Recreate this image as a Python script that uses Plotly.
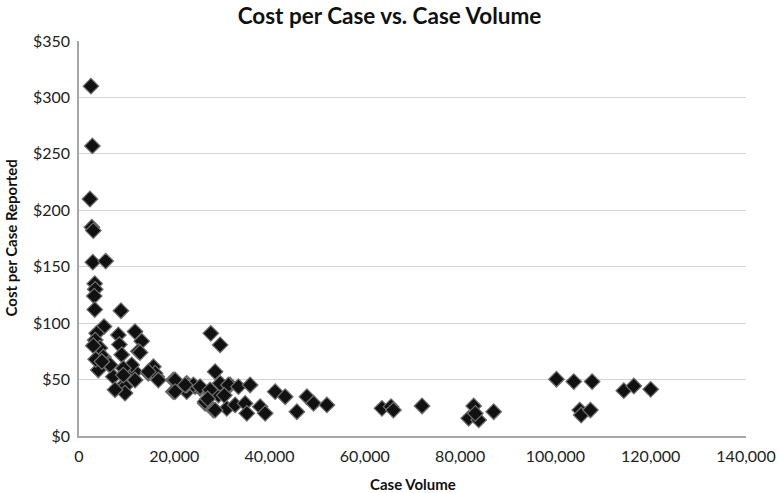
import plotly.graph_objects as go

case_volume = [
    2500, 2800, 2300, 2700, 3000,
    2900, 5600,
    3300, 3400, 3200, 3300, 8800,
    5250, 3700, 3400, 8260, 11760, 13170, 8470, 4400, 12460, 12800,
    5100, 8970, 6160, 4050, 7200, 10710, 11760, 9300, 11070, 9300,
    9660, 9660, 7560, 6510, 9300, 11760, 15620, 14560, 16320, 15970,
    16660, 14560, 3000, 3500, 4800,
    19800, 22620, 19800, 22620, 24370, 20170, 22620, 20170, 25420, 27520,
    29270, 29970, 31720, 26470, 28220, 31020, 24000, 27660, 29620, 28570,
    22270, 25420, 27520, 29620, 31370, 33470, 35920, 26470, 28570, 32770,
    34870, 35220, 38030, 39080, 41180, 43280, 45730, 47830, 49230, 52030,
    27000, 30500,
    63590, 65500, 66000, 72000, 82840, 81790, 83890, 83190, 87040,
    100210, 103850, 107700, 105110, 105400, 107350, 114350, 116460, 120000,
]
cost_per_case = [
    310, 257, 210, 185, 182,
    154, 155,
    135, 130, 124, 112, 111,
    97, 91, 85, 89.5, 92.5, 84, 81, 78, 75, 74,
    70, 72, 64, 58.5, 52.6, 61.4, 57, 45, 63, 60,
    43.7, 38, 41, 63, 54, 49.6, 61.4, 55.6, 52.6, 55.6,
    49.6, 57, 80, 68, 66,
    49.6, 46.7, 39.3, 39.3, 43.7, 49.6, 45.2, 39.3, 42.2, 39.3,
    36.3, 45.2, 45.2, 29, 23, 24.5, 45.2, 91, 80.7, 57,
    45.2, 43.7, 40.8, 46.7, 45.2, 43.7, 45.2, 30.4, 23, 27.5,
    28.9, 20.1, 26, 20.1, 39.3, 34.8, 21.5, 34.8, 29, 27.5,
    33, 36,
    24.5, 26, 23, 26.6, 26.6, 15.7, 14.2, 20, 21.5,
    50.3, 48.2, 48.2, 23, 18.6, 23, 40.2, 44.3, 41.4,
]

x_ticks = [0, 20000, 40000, 60000, 80000, 100000, 120000, 140000]
x_tick_labels = ["0", "20,000", "40,000", "60,000", "80,000", "100,000", "120,000", "140,000"]
y_ticks = [0, 50, 100, 150, 200, 250, 300, 350]
y_tick_labels = ["$0", "$50", "$100", "$150", "$200", "$250", "$300", "$350"]

FONT = "Lato, 'Open Sans', sans-serif"

fig = go.Figure(go.Scatter(
    x=case_volume, y=cost_per_case, mode="markers",
    marker=dict(symbol="diamond", size=12, color="#111111",
                line=dict(color="#6f6f6f", width=1.2)),
    showlegend=False,
))

fig.update_layout(
    width=779, height=493,
    margin=dict(l=79, r=33, t=41, b=57, autoexpand=False),
    paper_bgcolor="white", plot_bgcolor="white",
    font=dict(family=FONT, color="#222222", size=16),
    title=dict(text="<b>Cost per Case vs. Case Volume</b>", x=0.5, xanchor="center",
               y=0.967, yanchor="middle", font=dict(size=22.5, family=FONT, color="#111111")),
    annotations=[
        dict(text="<b>Case Volume</b>", xref="paper", yref="paper",
             x=0.5, y=-(484 - 436) / (436 - 41), xanchor="center", yanchor="middle",
             showarrow=False, font=dict(size=15, family=FONT, color="#111111")),
        dict(text="<b>Cost per Case Reported</b>", xref="paper", yref="paper",
             x=-(79 - 10) / (746 - 79), y=0.5, xanchor="center", yanchor="middle",
             textangle=-90, showarrow=False,
             font=dict(size=15, family=FONT, color="#111111")),
    ],
)
fig.update_xaxes(
    range=[0, 140000], tickvals=x_ticks, ticktext=x_tick_labels,
    showgrid=False, showline=True, linecolor="#a6a6a6", linewidth=1.5,
    ticks="", zeroline=False, tickfont=dict(size=16), automargin=False,
    ticklabelstandoff=5,
)
fig.update_yaxes(
    range=[0, 350], tickvals=y_ticks, ticktext=y_tick_labels,
    showgrid=True, gridcolor="#d4d4d4", gridwidth=1,
    showline=True, linecolor="#a6a6a6", linewidth=1.5,
    ticks="", zeroline=False, tickfont=dict(size=16), automargin=False,
    ticklabelstandoff=4,
)

fig.write_html("out.html", config={"displayModeBar": False},
               post_script="document.body.style.margin='0';")
